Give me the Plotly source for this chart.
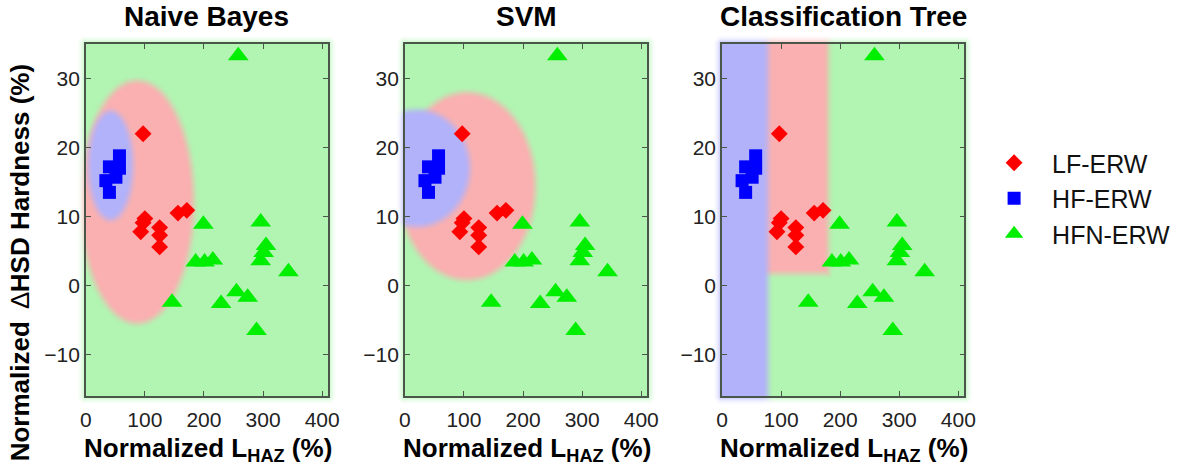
import numpy as np
import zlib, struct, base64
import plotly.graph_objects as go

# ---------------- data ----------------
panel_titles = ["Naive Bayes", "SVM", "Classification Tree"]
class_names = ["LF-ERW", "HF-ERW", "HFN-ERW"]

lf_x = [97, 100, 97, 93, 125, 125, 125, 156, 171]
lf_y = [22.0, 9.7, 9.1, 7.8, 8.4, 7.3, 5.6, 10.5, 10.9]

hf_x = [57, 40, 57, 51, 34, 40]
hf_y = [18.8, 17.2, 17.0, 15.7, 15.2, 13.5]

hfn_x = [258, 199, 296, 305, 301, 296, 186, 201, 215, 343, 146, 255, 274, 229, 289]
hfn_y = [33.3, 8.9, 9.2, 5.8, 4.8, 3.6, 3.4, 3.4, 3.7, 2.0, -2.4, -0.9, -1.7, -2.6, -6.5]

x_ticks = [0, 100, 200, 300, 400]
y_ticks = [-10, 0, 10, 20, 30]
x_range = [0, 410]
y_range = [-16, 35]

# decision-region geometry (cx, cy, a, b) in data units
nb_red_ellipse = [87, 12.1, 96, 17.6]
nb_blue_ellipse = [42, 17.4, 38, 7.9]
svm_red_ellipse = [105, 14.4, 116, 13.6]
svm_blue_ellipse = [20, 17.0, 90, 8.5]
tree_blue_split = 78
tree_red_box = [78, 180, 1.7]   # x from split to 180, y above 1.7

# ---------------- styling / layout ----------------
W_FIG, H_FIG = 1189, 471
panel_left_px = [81, 405, 727]
panel_w_px = 246
panel_top_px = 44
panel_h_px = 352
PAD = 10

GREEN_BG = np.array([178, 244, 178], float)
RED_BG = np.array([250, 176, 176], float)
BLUE_BG = np.array([178, 178, 250], float)
WHITE = np.array([255, 255, 255], float)
FRAME = "#4a564a"
FONT = "Liberation Sans, Arial, sans-serif"


def to_png_uri(rgb):
    h, w, _ = rgb.shape
    raw = b"".join(b"\x00" + rgb[i].tobytes() for i in range(h))

    def chunk(t, d):
        c = struct.pack(">I", len(d)) + t + d
        return c + struct.pack(">I", zlib.crc32(t + d) & 0xffffffff)

    png = (b"\x89PNG\r\n\x1a\n"
           + chunk(b"IHDR", struct.pack(">IIBBBBB", w, h, 8, 2, 0, 0, 0))
           + chunk(b"IDAT", zlib.compress(raw, 9))
           + chunk(b"IEND", b""))
    return "data:image/png;base64," + base64.b64encode(png).decode()


def smooth_alpha(d, w=11.0):
    t = np.clip(0.5 - d / w, 0, 1)
    return t * t * (3 - 2 * t)


def make_background(idx):
    L = panel_left_px[idx]
    T = panel_top_px
    sx = panel_w_px / (x_range[1] - x_range[0])
    sy = panel_h_px / (y_range[1] - y_range[0])
    xs = np.arange(L - PAD, L + panel_w_px + PAD) + 0.5
    ys = np.arange(T - PAD, T + panel_h_px + PAD) + 0.5
    X, Y = np.meshgrid(xs, ys)

    def px(v):
        return L + (v - x_range[0]) * sx

    def py(v):
        return T + (y_range[1] - v) * sy

    def ell_d(p):
        cx, cy, a, b = p
        ap, bp = a * sx, b * sy
        u = (X - px(cx)) / ap
        v = (Y - py(cy)) / bp
        r = np.sqrt(u * u + v * v)
        g = np.sqrt((u / ap) ** 2 + (v / bp) ** 2) / np.maximum(r, 1e-6)
        return (r - 1) / np.maximum(g, 1e-6)

    def box_d(x0, x1, y0, y1):
        dx = np.maximum(x0 - X, X - x1)
        dy = np.maximum(y0 - Y, Y - y1)
        out = np.sqrt(np.maximum(dx, 0) ** 2 + np.maximum(dy, 0) ** 2)
        inside = np.minimum(np.maximum(dx, dy), 0)
        return out + inside

    if idx == 0:
        ar = smooth_alpha(ell_d(nb_red_ellipse))
        ab = smooth_alpha(ell_d(nb_blue_ellipse))
    elif idx == 1:
        ar = smooth_alpha(ell_d(svm_red_ellipse))
        ab = smooth_alpha(ell_d(svm_blue_ellipse))
    else:
        ar = smooth_alpha(box_d(-1e4, px(tree_red_box[1]), -1e4, py(tree_red_box[2])))
        ab = smooth_alpha(box_d(-1e4, px(tree_blue_split), -1e4, 1e4))

    col = GREEN_BG[None, None, :] * np.ones(X.shape + (3,))
    col = col * (1 - ar[..., None]) + RED_BG * ar[..., None]
    col = col * (1 - ab[..., None]) + BLUE_BG * ab[..., None]

    # soft glow outside the frame
    dx = np.maximum(L - X, X - (L + panel_w_px))
    dy = np.maximum(T - Y, Y - (T + panel_h_px))
    dout = np.sqrt(np.maximum(dx, 0) ** 2 + np.maximum(dy, 0) ** 2)
    m = np.clip(1 - dout / PAD, 0, 1) ** 2.2
    col = WHITE * (1 - m[..., None]) + col * m[..., None]
    return to_png_uri(np.clip(col + 0.5, 0, 255).astype(np.uint8))


fig = go.Figure()

images = []
annotations = []
layout_axes = {}
for i in range(3):
    sfx = "" if i == 0 else str(i + 1)
    xa = "x" + sfx
    ya = "y" + sfx
    L = panel_left_px[i]
    x0p = L / W_FIG
    x1p = (L + panel_w_px) / W_FIG
    y1p = 1 - panel_top_px / H_FIG
    y0p = 1 - (panel_top_px + panel_h_px) / H_FIG

    images.append(dict(
        source=make_background(i), xref="paper", yref="paper",
        x=(L - PAD) / W_FIG, y=1 - (panel_top_px - PAD) / H_FIG,
        sizex=(panel_w_px + 2 * PAD) / W_FIG, sizey=(panel_h_px + 2 * PAD) / H_FIG,
        xanchor="left", yanchor="top", sizing="stretch", layer="below"))

    axis_common = dict(showgrid=False, zeroline=False, showline=True, mirror="ticks",
                       linecolor=FRAME, linewidth=1.5, ticks="inside", ticklen=5,
                       tickwidth=1.2, tickcolor=FRAME,
                       tickfont=dict(family=FONT, size=21, color="#222222"))
    layout_axes["xaxis" + sfx] = dict(axis_common, domain=[x0p, x1p], range=x_range,
                                      tickvals=x_ticks, anchor=ya, ticklabelstandoff=4)
    layout_axes["yaxis" + sfx] = dict(axis_common, domain=[y0p, y1p], range=y_range,
                                      tickvals=y_ticks, anchor=xa)

    show = i == 0
    fig.add_trace(go.Scatter(x=lf_x, y=lf_y, mode="markers", name=class_names[0],
                             xaxis=xa, yaxis=ya, showlegend=show, legendrank=1,
                             cliponaxis=False,
                             marker=dict(symbol="diamond", size=13, color="#ff0000",
                                         line=dict(width=0))))
    fig.add_trace(go.Scatter(x=hf_x, y=hf_y, mode="markers", name=class_names[1],
                             xaxis=xa, yaxis=ya, showlegend=show, legendrank=2,
                             cliponaxis=False,
                             marker=dict(symbol="square", size=13, color="#0000ff",
                                         line=dict(width=0))))
    fig.add_trace(go.Scatter(x=hfn_x, y=hfn_y, mode="markers", name=class_names[2],
                             xaxis=xa, yaxis=ya, showlegend=show, legendrank=3,
                             cliponaxis=False,
                             marker=dict(symbol="triangle-up", size=18, color="#00ee00",
                                         line=dict(width=0))))

    cx = (x0p + x1p) / 2
    annotations.append(dict(text="<b>%s</b>" % panel_titles[i], xref="paper", yref="paper",
                            x=cx, y=1 - 17 / H_FIG, xanchor="center", yanchor="middle",
                            showarrow=False, font=dict(family=FONT, size=28, color="#000000")))
    annotations.append(dict(text="<b>Normalized L<sub>HAZ</sub> (%)</b>", xref="paper", yref="paper",
                            x=cx + 1 / W_FIG, y=1 - 449 / H_FIG, xanchor="center", yanchor="middle",
                            showarrow=False, font=dict(family=FONT, size=26, color="#000000")))

annotations.append(dict(text="<b>Normalized</b>\u2002\u2206<b>HSD Hardness (%)</b>",
                        xref="paper", yref="paper",
                        x=14 / W_FIG, y=1 - 463 / H_FIG, xanchor="center", yanchor="bottom",
                        textangle=-90, showarrow=False,
                        font=dict(family=FONT, size=26, color="#000000")))

fig.update_layout(
    width=W_FIG, height=H_FIG, autosize=False,
    margin=dict(l=0, r=0, t=0, b=0),
    paper_bgcolor="white", plot_bgcolor="rgba(0,0,0,0)",
    images=images, annotations=annotations,
    legend=dict(x=985 / W_FIG, y=1 - 140 / H_FIG, xanchor="left", yanchor="top",
                font=dict(family=FONT, size=25, color="#111111"),
                bgcolor="rgba(0,0,0,0)", itemwidth=66),
    **layout_axes)

fig.write_html("out.html")
